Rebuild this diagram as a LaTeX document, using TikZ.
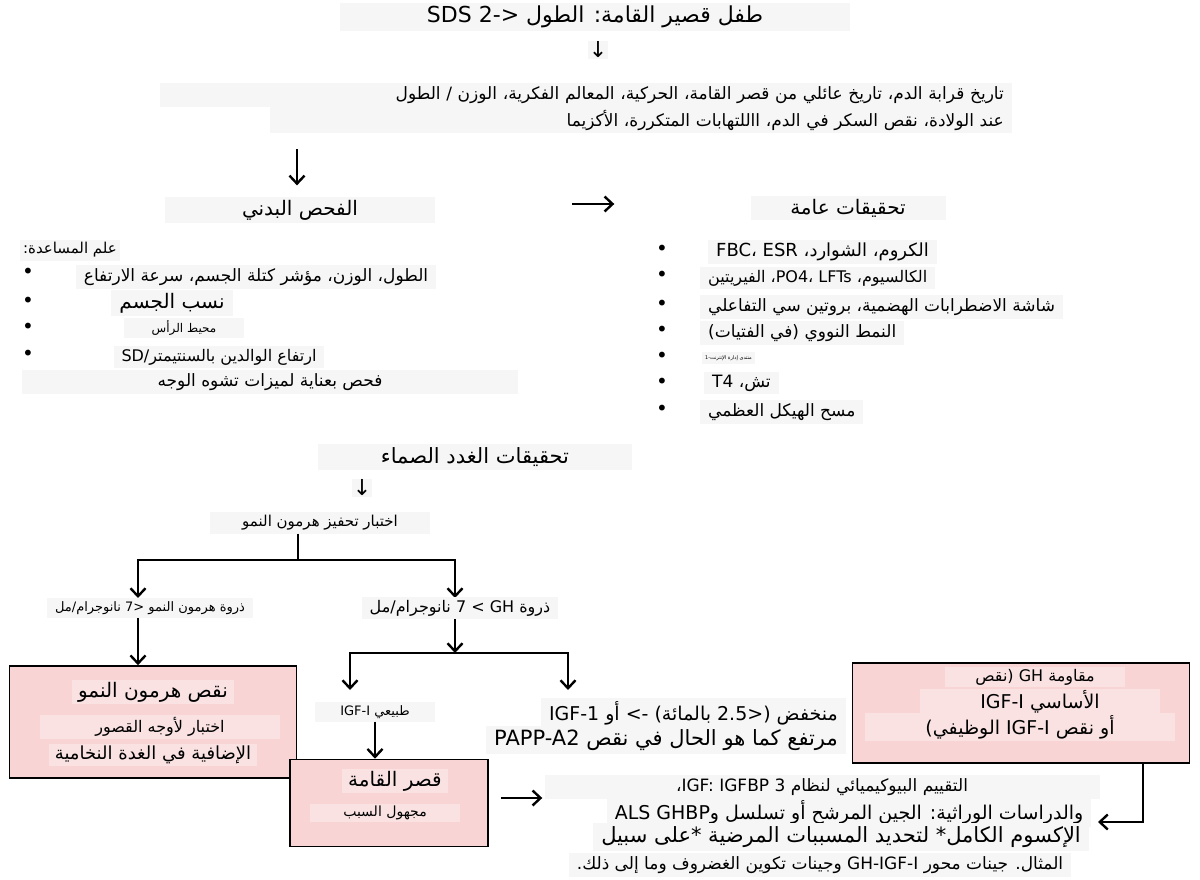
\documentclass[tikz,border=0pt]{standalone}
\usepackage{fontspec}
\usetikzlibrary{arrows.meta,positioning}
\TeXXeTstate=1
\newfontfamily\arabicfont[Script=Arabic]{DejaVu Sans}
\newfontfamily\symbfont{DejaVu Sans}
\definecolor{boxpink}{RGB}{248,212,213}
\definecolor{pinkpatch}{RGB}{250,226,226}
\definecolor{patchgray}{RGB}{246,246,246}
\newcommand{\arl}[1]{\beginR #1\endR}
\newcommand{\lat}[1]{\beginL{\symbfont #1}\endL}
\newcommand{\nlat}[1]{\beginL #1\endL}

\begin{document}
\begin{tikzpicture}[x=1pt,y=-1pt,
		fs/.style={font=\arabicfont\fontsize{#1}{#1}\selectfont},
		lbl/.style={fill=patchgray, inner xsep=8pt, inner ysep=3pt},
		plbl/.style={fill=pinkpatch, inner xsep=6pt, inner ysep=2pt},
		pinkbox/.style={draw=black, line width=1.6pt, fill=boxpink, inner sep=0pt},
		arrow/.style={line width=2.4pt, -{Straight Barb[length=8pt,width=15pt]}},
		bar/.style={line width=2.4pt},
		dot/.style={font=\symbfont\fontsize{20}{20}\selectfont, inner sep=0pt},
		glyph/.style={font=\symbfont\fontsize{22}{22}\selectfont, fill=patchgray, inner sep=1pt}
	]
	\useasboundingbox (0,0) rectangle (1200,880);

	% history
	\node[lbl, fs=22, minimum width=510pt] (title) at (595,17) {\arl{طفل قصير القامة: الطول \lat{SDS 2\kern0pt-\kern0pt>}}};
	\node[glyph] (down1) at (598,50) {↓};
	\node[lbl, fs=17, anchor=east, text width=836pt, align=right] (hist1) at (1012,95) {\arl{تاريخ قرابة الدم، تاريخ عائلي من قصر القامة، الحركية، المعالم الفكرية، الوزن / الطول}};
	\node[lbl, fs=17, anchor=east, text width=726pt, align=right] (hist2) at (1012,120) {\arl{عند الولادة، نقص السكر في الدم، االلتهابات المتكررة، الأكزيما}\hspace*{46pt}};

	% examination / investigations
	\node[lbl, fs=20, minimum width=270pt] (phys) at (300,210) {\arl{الفحص البدني}};
	\node[lbl, fs=20, minimum width=195pt] (gen) at (848,208) {\arl{تحقيقات عامة}};
	\draw[arrow] ([yshift=-16]hist2.south -| phys.north) ++(-3,0) -- ++(0,36);
	\draw[arrow, shorten <=137pt, shorten >=136pt] ([yshift=6]phys.east) -- ([yshift=6]phys.east -| gen.west);

	% auxology
	\node[lbl, fs=15, inner xsep=3pt] (aid) at (70,250) {\arl{علم المساعدة:}};
	\foreach \y in {273,302,328,355}
		\node[dot] (lb\y) at (28,\y) {•};
	\node[lbl, fs=17] (aux1) at (256,277) {\arl{الطول، الوزن، مؤشر كتلة الجسم، سرعة الارتفاع}};
	\node[lbl, fs=20] (aux2) at (172,303) {\arl{نسب الجسم}};
	\node[lbl, fs=12, minimum width=120pt] (aux3) at (184,328) {\arl{محيط الرأس}};
	\node[lbl, fs=16] (aux4) at (219,357) {\arl{ارتفاع الوالدين بالسنتيمتر/SD}};
	\node[lbl, fs=17, minimum width=496pt] (aux5) at (270,382) {\arl{فحص بعناية لميزات تشوه الوجه}};

	% general tests
	\foreach \y in {250,276,305,331,357,383,410}
		\node[dot] (rb\y) at (662,\y) {•};
	\node[lbl, fs=18, anchor=west] (tst1) at (708,252) {\arl{الكروم، الشوارد، \lat{FBC، ESR}}};
	\node[lbl, fs=16, anchor=west] (tst2) at (700,278) {\arl{الكالسيوم، \lat{PO4، LFTs}، الفيريتين}};
	\node[lbl, fs=17, anchor=west] (tst3) at (700,307) {\arl{شاشة الاضطرابات الهضمية، بروتين سي التفاعلي}};
	\node[lbl, fs=17, anchor=west] (tst4) at (700,333) {\arl{النمط النووي (في الفتيات)}};
	\node[lbl, fs=5, anchor=west, inner xsep=3pt] (tst5) at (702,358) {\arl{منتدى إدارة الإنترنت-1}};
	\node[lbl, fs=17, anchor=west] (tst6) at (704,383) {\arl{تش، T4}};
	\node[lbl, fs=17, anchor=west] (tst7) at (700,412) {\arl{مسح الهيكل العظمي}};

	% endocrine
	\node[lbl, fs=21, minimum width=314pt] (endo) at (475,457) {\arl{تحقيقات الغدد الصماء}};
	\node[glyph] (down2) at (362,488) {↓};
	\node[lbl, fs=15, minimum width=220pt] (ghst) at (320,523) {\arl{اختبار تحفيز هرمون النمو}};
	\coordinate (split1) at (298,560);
	\coordinate (split2) at (455,653);
	\draw[bar] (ghst.south -| split1) -- (split1);
	\draw[arrow] (split1) -| (138,598);
	\draw[arrow] (split1) -| (455,598);

	\node[lbl, fs=13] (lowpk) at (150,608) {\arl{ذروة هرمون النمو \nlat{<7} نانوجرام/مل}};
	\node[lbl, fs=16] (highpk) at (460,608) {\arl{ذروة \lat{7 < GH} نانوجرام/مل}};
	\draw[arrow] (highpk.south -| split2) -- (split2);
	\draw[bar] (350,653) -- (568,653);
	\coordinate (normin) at (350,690);
	\coordinate (lowin) at (568,690);
	\draw[arrow] (split2) -| (normin);
	\draw[arrow] (split2) -| (lowin);

	% GH deficiency
	\node[pinkbox, minimum width=287pt, minimum height=112pt] (ghd) at (153,722) {};
	\node[plbl, fs=20] (ghd1) at (153,692) {\arl{نقص هرمون النمو}};
	\node[plbl, fs=16, minimum width=240pt] (ghd2) at (160,727) {\arl{اختبار لأوجه القصور}};
	\node[plbl, fs=18] (ghd3) at (153,755) {\arl{الإضافية في الغدة النخامية}};
	\draw[arrow] (lowpk.south -| 138,0) -- (ghd.north -| 138,0);

	% idiopathic short stature
	\node[lbl, fs=13, minimum width=120pt] (normigf) at (375,712) {\arl{طبيعي IGF-I}};
	\node[pinkbox, minimum width=198pt, minimum height=87pt] (iss) at (389,803) {};
	\node[plbl, fs=20] (iss1) at (395,781) {\arl{قصر القامة}};
	\node[plbl, fs=14, minimum width=150pt] (iss2) at (385,813) {\arl{مجهول السبب}};
	\draw[arrow] (normigf.south) -- (normigf.south |- iss.north);

	% low IGF-1
	\node[lbl, fs=19, anchor=east] (low1) at (846,713) {\arl{منخفض (\nlat{<2.5} بالمائة) \nlat{->} أو \lat{IGF-1}}};
	\node[lbl, fs=21, anchor=east] (low2) at (846,740) {\arl{مرتفع كما هو الحال في نقص \lat{PAPP-A2}}};

	% GH resistance
	\node[pinkbox, minimum width=337pt, minimum height=100pt] (ghr) at (1021,713) {};
	\node[plbl, fs=16, minimum width=180pt] (ghr1) at (1035,677) {\arl{مقاومة \lat{GH} (نقص}};
	\node[plbl, fs=19, minimum width=240pt] (ghr2) at (1040,702) {\arl{الأساسي \lat{IGF-I}}};
	\node[plbl, fs=19, minimum width=310pt] (ghr3) at (1020,727) {\arl{أو نقص \lat{IGF-I} الوظيفي)}};

	% further evaluation
	\node[lbl, fs=17, minimum width=555pt] (eval1) at (822,787) {\arl{التقييم البيوكيميائي لنظام \lat{IGF: IGFBP 3}،}};
	\node[lbl, fs=19] (eval2) at (849,812) {\arl{والدراسات الوراثية: الجين المرشح أو تسلسل GHBPو ALS}};
	\node[lbl, fs=21] (eval3) at (841,837) {\arl{الإكسوم الكامل* لتحديد المسببات المرضية *على سبيل}};
	\node[lbl, fs=17] (eval4) at (820,865) {\arl{المثال. جينات محور \lat{GH-IGF-I} وجينات تكوين الغضروف وما إلى ذلك.}};
	\coordinate (evalin) at (1098,822);
	\draw[arrow, shorten <=12pt, shorten >=2pt] ([yshift=5]iss.east) -- ([yshift=5]iss.east -| eval1.west);
	\draw[arrow] ([xshift=122]ghr.south) |- (evalin);
\end{tikzpicture}
\end{document}
